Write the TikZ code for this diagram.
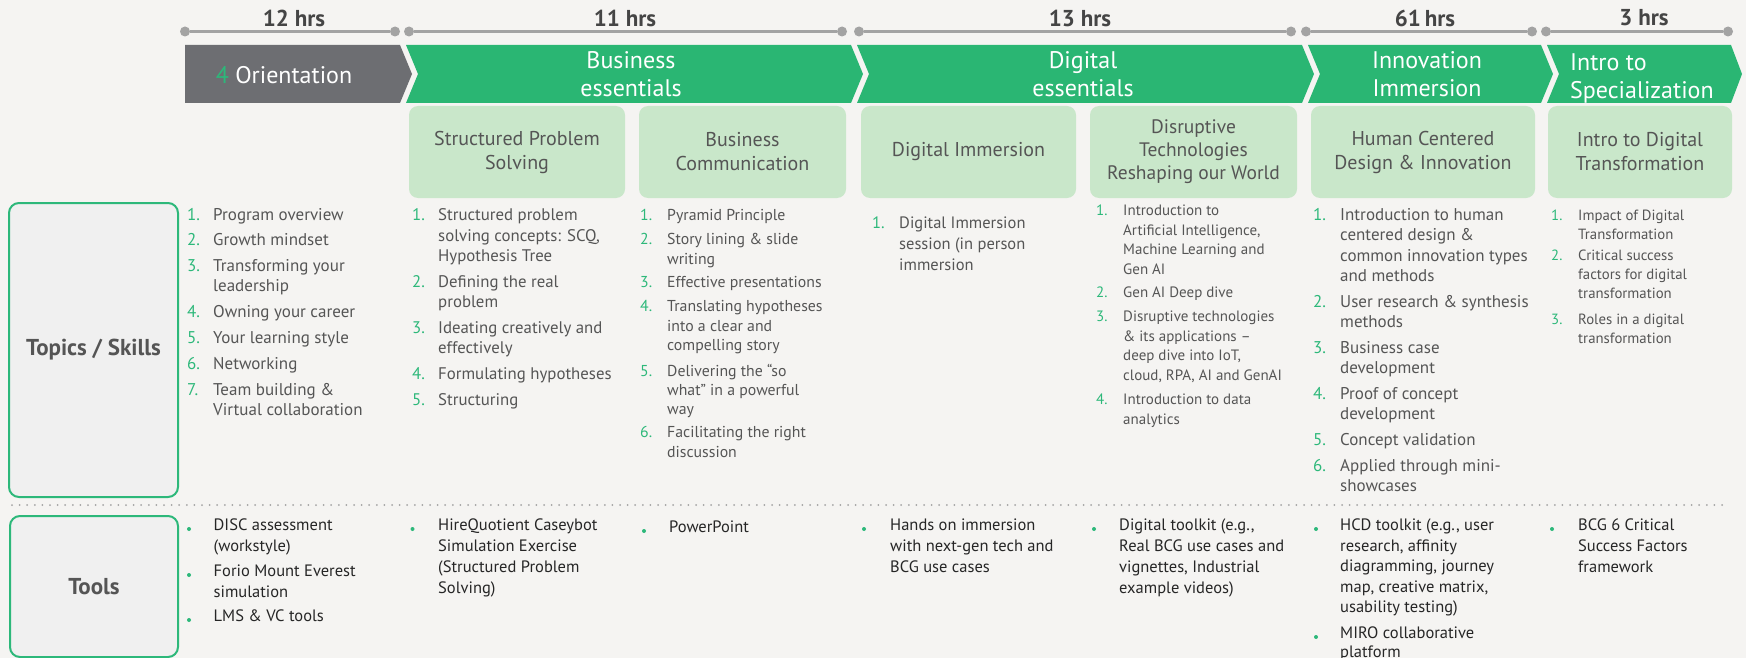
\documentclass[tikz,border=0pt]{standalone}
\usepackage{fontspec}
\setmainfont{PT Sans}
\definecolor{bg}{HTML}{F5F4F2}
\definecolor{cgreen}{HTML}{2AB673}
\definecolor{lgreen}{HTML}{C9E7CA}
\definecolor{ngreen}{HTML}{2DB87A}
\definecolor{cgrey}{HTML}{6D6E72}
\definecolor{tgrey}{HTML}{555555}
\definecolor{hgrey}{HTML}{454545}
\definecolor{tdark}{HTML}{262626}
\definecolor{lgrey}{HTML}{A3A3A3}
\definecolor{boxfill}{HTML}{F0F0F0}
\newcommand\fs[2]{\fontsize{#1}{#2}\selectfont}
% list item: name, xnum, xtext, y, dy, fontsize, label, lines
\newcommand\litem[8]{%
  \node[numsty, font=\fs{#6}{#6}, anchor=mid west] (#1n) at (#2,#4) {#7};
  \foreach \ln [count=\k] in {#8} {
    \node[txtsty, font=\fs{#6}{#6}, anchor=mid west] (#1l\k) at ({#3},{#4+(\k-1)*#5}) {\ln};
  }%
}
% tool item: name, xbullet, xtext, y, dy, lines
\newcommand\titem[6]{%
  \node[bulsty] (#1n) at (#2,{#4+1}) {};
  \foreach \ln [count=\k] in {#6} {
    \node[tooltxt, anchor=mid west] (#1l\k) at ({#3},{#4+(\k-1)*#5}) {\ln};
  }%
}
\begin{document}
\begin{tikzpicture}[x=1pt,y=-1pt,
  numsty/.style={inner sep=0pt, text=ngreen},
  txtsty/.style={inner sep=0pt, text=tgrey},
  tooltxt/.style={inner sep=0pt, text=tdark, font=\fs{16.5}{16.5}},
  bulsty/.style={circle, fill=ngreen, inner sep=0pt, minimum size=4pt},
  dotsty/.style={circle, fill=lgrey, inner sep=0pt, minimum size=10pt},
  hrs/.style={font=\bfseries\fs{23}{23}, text=hgrey, inner sep=0pt},
  tline/.style={draw=lgrey, line width=2.5pt},
  chev/.style={fill=cgreen},
  sub/.style={fill=lgreen, rounded corners=9pt, minimum height=92pt, align=center, text=tgrey, font=\fs{20}{24}},
  chevtxt/.style={align=center, text=white, font=\fs{24}{28}, inner sep=0pt},
  lbox/.style={draw=ngreen, line width=2pt, fill=boxfill, rounded corners=10pt, font=\bfseries\fs{23}{23}, text=tgrey}
]
\useasboundingbox (0,0) rectangle (1746,658);
\fill[bg] (0,0) rectangle (1746,658);
\clip (0,0) rectangle (1746,658);

% ---- timeline ----
\node[dotsty] (a1) at (185,31.5) {};
\node[dotsty] (a2) at (395,31.5) {};
\node[dotsty] (b1) at (409,31.5) {};
\node[dotsty] (b2) at (842,31.5) {};
\node[dotsty] (c1) at (859,31.5) {};
\node[dotsty] (c2) at (1291,31.5) {};
\node[dotsty] (d1) at (1306,31.5) {};
\node[dotsty] (d2) at (1532,31.5) {};
\node[dotsty] (e1) at (1546,31.5) {};
\node[dotsty] (e2) at (1728,31.5) {};
\draw[tline] (a1) -- (a2);
\draw[tline] (b1) -- (b2);
\draw[tline] (c1) -- (c2);
\draw[tline] (d1) -- (d2);
\draw[tline] (e1) -- (e2);
\node[hrs] (h1) at (294,18) {12 hrs};
\node[hrs] (h2) at (625,18) {11 hrs};
\node[hrs] (h3) at (1080,18) {13 hrs};
\node[hrs] (h4) at (1425,18) {61\,hrs};
\node[hrs] (h5) at (1644,18) {3 hrs};

% ---- chevrons ----
\fill[cgrey] (185,45) -- (400,45) -- (412,74) -- (400,103) -- (185,103) -- cycle;
\fill[chev] (406,45) -- (851,45) -- (863,74) -- (851,103) -- (406,103) -- (418,74) -- cycle;
\fill[chev] (857,45) -- (1302,45) -- (1314,74) -- (1302,103) -- (857,103) -- (869,74) -- cycle;
\fill[chev] (1308,45) -- (1541,45) -- (1553,74) -- (1541,103) -- (1308,103) -- (1320,74) -- cycle;
\fill[chev] (1547,45) -- (1731,45) -- (1742,74) -- (1731,103) -- (1547,103) -- (1559,74) -- cycle;
\node[chevtxt] (o1) at (284,75) {\textcolor{ngreen}{4} Orientation};
\node[chevtxt] (o2) at (631,74) {Business\\essentials};
\node[chevtxt] (o3) at (1083,74) {Digital\\essentials};
\node[chevtxt] (o4) at (1427,74) {Innovation\\Immersion};
\node[chevtxt, align=left, anchor=west] (o5) at (1570,79) {Intro to\\Specialization};

% ---- sub boxes ----
\node[sub, minimum width=216pt] (s1) at (517,152) {Structured Problem\\Solving};
\node[sub, minimum width=207pt] (s2) at (742.5,152) {Business\\Communication};
\node[sub, minimum width=215pt] (s3) at (968.5,152) {Digital Immersion};
\node[sub, minimum width=207pt, font=\fs{19.5}{23}] (s4) at (1193.5,152) {Disruptive\\Technologies\\Reshaping our World};
\node[sub, minimum width=224pt] (s5) at (1423,152) {Human Centered\\Design \& Innovation};
\node[sub, minimum width=184pt] (s6) at (1640,152) {Intro to Digital\\Transformation};

% ---- left labels ----
\node[lbox, minimum width=169pt, minimum height=294pt] (lt) at (93.5,350) {Topics / Skills};
\node[lbox, minimum width=168pt, minimum height=141pt] (lo) at (94,586.5) {Tools};

% ---- separator ----
\coordinate (sepL) at (12,505);
\coordinate (sepR) at (1722,505);
\draw[lgrey, line width=2pt, line cap=round, dash pattern=on 0pt off 7.6pt] (sepL) -- (sepR);

% ---- column A ----
\litem{aa}{187}{213}{218}{20}{17}{1.}{Program overview}
\litem{ab}{187}{213}{243}{20}{17}{2.}{Growth mindset}
\litem{ac}{187}{213}{269}{20}{17}{3.}{Transforming your, leadership}
\litem{ad}{187}{213}{315}{20}{17}{4.}{Owning your career}
\litem{ae}{187}{213}{341}{20}{17}{5.}{Your learning style}
\litem{af}{187}{213}{367}{20}{17}{6.}{Networking}
\litem{ag}{187}{213}{393}{20}{17}{7.}{Team building \&, Virtual collaboration}

% ---- column B ----
\litem{ba}{412}{438}{218}{20.5}{16.8}{1.}{Structured problem, {solving concepts: SCQ,}, Hypothesis Tree}
\litem{bb}{412}{438}{285}{20}{16.8}{2.}{Defining the real, problem}
\litem{bc}{412}{438}{331}{20}{16.8}{3.}{Ideating creatively and, effectively}
\litem{bd}{412}{438}{377}{20}{16.8}{4.}{Formulating hypotheses}
\litem{be}{412}{438}{403}{20}{16.8}{5.}{Structuring}

% ---- column C ----
\litem{ca}{640}{667}{218}{19.5}{15.8}{1.}{Pyramid Principle}
\litem{cb}{640}{667}{242}{19.5}{15.8}{2.}{Story lining \& slide, writing}
\litem{cc}{640}{667}{285}{19.5}{15.8}{3.}{Effective presentations}
\litem{cd}{640}{667}{309}{19.5}{15.8}{4.}{Translating hypotheses, into a clear and, compelling story}
\litem{ce}{640}{667}{374}{19}{15.8}{5.}{Delivering the “so, what” in a powerful, way}
\litem{cf}{640}{667}{435}{19.5}{15.8}{6.}{Facilitating the right, discussion}

% ---- column D ----
\litem{da}{872}{899}{226}{21}{16.5}{1.}{Digital Immersion, session (in person, immersion}

% ---- column E ----
\litem{ea}{1096}{1123}{213}{19.5}{15}{1.}{Introduction to, {Artificial Intelligence,}, Machine Learning and, Gen AI}
\litem{eb}{1096}{1123}{295}{19.5}{15}{2.}{Gen AI Deep dive}
\litem{ec}{1096}{1123}{319}{19.5}{15}{3.}{Disruptive technologies, \& its applications –, {deep dive into IoT,}, {cloud, RPA, AI and GenAI}}
\litem{ed}{1096}{1123}{402}{19.5}{15}{4.}{Introduction to data, analytics}

% ---- column F ----
\litem{fa}{1313}{1340}{218}{20.3}{17}{1.}{Introduction to human, centered design \&, common innovation types, and methods}
\litem{fb}{1313}{1340}{305}{20}{17}{2.}{User research \& synthesis, methods}
\litem{fc}{1313}{1340}{351}{20}{17}{3.}{Business case, development}
\litem{fd}{1313}{1340}{397}{20}{17}{4.}{Proof of concept, development}
\litem{fe}{1313}{1340}{443}{20}{17}{5.}{Concept validation}
\litem{ff}{1313}{1340}{469}{20}{17}{6.}{Applied through mini-, showcases}

% ---- column G ----
\litem{ga}{1551}{1578}{218}{18.5}{14.8}{1.}{Impact of Digital, Transformation}
\litem{gb}{1551}{1578}{258}{19}{14.8}{2.}{Critical success, factors for digital, transformation}
\litem{gc}{1551}{1578}{322}{18.5}{14.8}{3.}{Roles in a digital, transformation}

% ---- tools ----
\titem{ta}{189}{213.5}{528}{20.5}{DISC assessment, {(workstyle)}}
\titem{tb}{189}{213.5}{574}{21}{Forio Mount Everest, simulation}
\titem{tc}{189}{213.5}{619}{20}{LMS \& VC tools}
\titem{td}{412.5}{438}{528}{21}{HireQuotient Caseybot, Simulation Exercise, {(Structured Problem}, {Solving)}}
\titem{te}{644}{669}{530}{20}{PowerPoint}
\titem{tf}{864}{890}{528}{21}{Hands on immersion, with next-gen tech and, BCG use cases}
\titem{tg}{1094}{1119}{528}{21}{{Digital toolkit (e.g.,}, Real BCG use cases and, {vignettes, Industrial}, {example videos)}}
\titem{th}{1316}{1340}{528}{20.5}{{HCD toolkit (e.g., user}, {research, affinity}, {diagramming, journey}, {map, creative matrix,}, {usability testing)}}
\titem{ti}{1316}{1340}{636}{19}{MIRO collaborative, platform}
\titem{tj}{1552}{1578}{528}{21}{BCG 6 Critical, Success Factors, framework}
\end{tikzpicture}
\end{document}
